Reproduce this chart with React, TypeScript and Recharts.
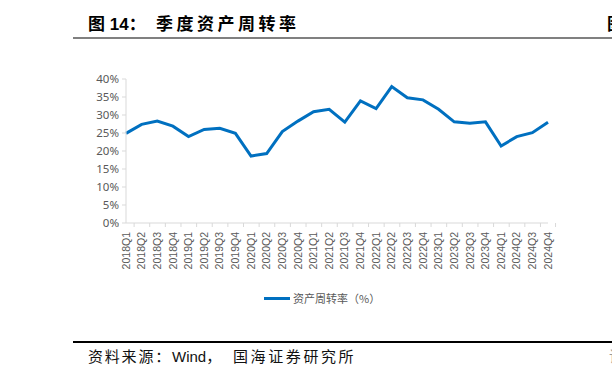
import { LineChart, Line, XAxis, YAxis } from "recharts";

const quarters = [
  "2018Q1", "2018Q2", "2018Q3", "2018Q4",
  "2019Q1", "2019Q2", "2019Q3", "2019Q4",
  "2020Q1", "2020Q2", "2020Q3", "2020Q4",
  "2021Q1", "2021Q2", "2021Q3", "2021Q4",
  "2022Q1", "2022Q2", "2022Q3", "2022Q4",
  "2023Q1", "2023Q2", "2023Q3", "2023Q4",
  "2024Q1", "2024Q2", "2024Q3", "2024Q4",
];

const turnover = [
  24.9, 27.4, 28.3, 26.9,
  24.0, 26.0, 26.3, 24.9,
  18.6, 19.3, 25.4, 28.3,
  30.9, 31.6, 28.0, 33.9,
  31.8, 37.9, 34.8, 34.2,
  31.6, 28.1, 27.7, 28.1,
  21.4, 24.0, 25.1, 28.0,
];

const yTicks = [0, 5, 10, 15, 20, 25, 30, 35, 40];

const data = quarters.map((q, i) => ({ q, v: turnover[i] }));

const W = 612;
const H = 379;
const PLOT_LEFT = 126;
const PLOT_RIGHT = 548;
const HALF_BAND = (PLOT_RIGHT - PLOT_LEFT) / quarters.length / 2;
const AXIS = "#d9d9d9";
const TEXT = "#595959";
const BLUE = "#0070C0";
const TICK_SIZE = 4;
const TICK_MARGIN = 5;

function QuarterTick(props: any) {
  const { x, y, payload, index } = props;
  const axisY = y - TICK_SIZE - TICK_MARGIN;
  const last = index === quarters.length - 1;
  return (
    <g>
      <line x1={x - HALF_BAND} y1={axisY} x2={x - HALF_BAND} y2={axisY + TICK_SIZE} stroke={AXIS} />
      {last && <line x1={x + HALF_BAND} y1={axisY} x2={x + HALF_BAND} y2={axisY + TICK_SIZE} stroke={AXIS} />}
      <text
        x={x}
        y={y}
        dy="0.35em"
        textAnchor="end"
        transform={`rotate(-90, ${x}, ${y})`}
        fill={TEXT}
        fontSize={10.5}
        fontFamily="Liberation Sans, Arial, sans-serif"
      >
        {payload.value}
      </text>
    </g>
  );
}

const abs = (left: number, top: number, extra: any = {}) => ({
  position: "absolute" as const,
  left,
  top,
  whiteSpace: "nowrap" as const,
  ...extra,
});

export default function App() {
  const title = { fontSize: 17, fontWeight: 700, color: "#000", lineHeight: "24px" };
  const foot = { fontSize: 15, color: "#111", lineHeight: "20px" };
  return (
    <div
      style={{
        position: "absolute",
        left: 0,
        top: 0,
        width: W,
        height: H,
        overflow: "hidden",
        background: "#fff",
        fontFamily: "'Liberation Sans', 'Noto Sans CJK SC', sans-serif",
      }}
    >
      <div style={abs(88, 13, title)}>图 14：</div>
      <div style={abs(156, 13, { ...title, letterSpacing: 3.5 })}>季度资产周转率</div>
      <div style={abs(607, 13, title)}>图</div>
      <div style={{ position: "absolute", left: 73, top: 37, width: W - 73, height: 2, background: "#808080" }} />

      <LineChart width={W} height={H} data={data} margin={{ top: 79, right: W - PLOT_RIGHT, bottom: 106, left: 0 }}>
        <XAxis
          dataKey="q"
          interval={0}
          height={50}
          stroke={AXIS}
          tickLine={false}
          tickSize={TICK_SIZE}
          tickMargin={TICK_MARGIN}
          tick={<QuarterTick />}
        />
        <YAxis
          width={PLOT_LEFT}
          domain={[0, 40]}
          ticks={yTicks}
          interval={0}
          stroke={AXIS}
          tickSize={4}
          tickMargin={3}
          tickFormatter={(v) => `${v}%`}
          tick={{ fill: TEXT, fontSize: 11.5, fontFamily: "'Noto Sans', sans-serif" }}
        />
        <Line
          type="linear"
          dataKey="v"
          stroke={BLUE}
          strokeWidth={3}
          dot={false}
          isAnimationActive={false}
        />
      </LineChart>

      <div style={abs(264, 290, { display: "flex", alignItems: "center" })}>
        <div style={{ width: 26, height: 3, background: BLUE, marginRight: 3 }} />
        <span style={{ fontSize: 11, color: TEXT, fontFamily: "'Noto Sans CJK SC', sans-serif", lineHeight: "16px" }}>
          资产周转率（%）
        </span>
      </div>

      <div style={{ position: "absolute", left: 73, top: 341, width: W - 73, height: 2, background: "#000" }} />
      <div style={abs(88, 347, { ...foot, letterSpacing: 1.8 })}>资料来源：</div>
      <div style={abs(172, 347, foot)}>Wind，</div>
      <div style={abs(233, 347, { ...foot, letterSpacing: 2.6 })}>国海证券研究所</div>
      <div style={abs(609, 347, { ...foot, color: "#999" })}>请</div>
    </div>
  );
}
